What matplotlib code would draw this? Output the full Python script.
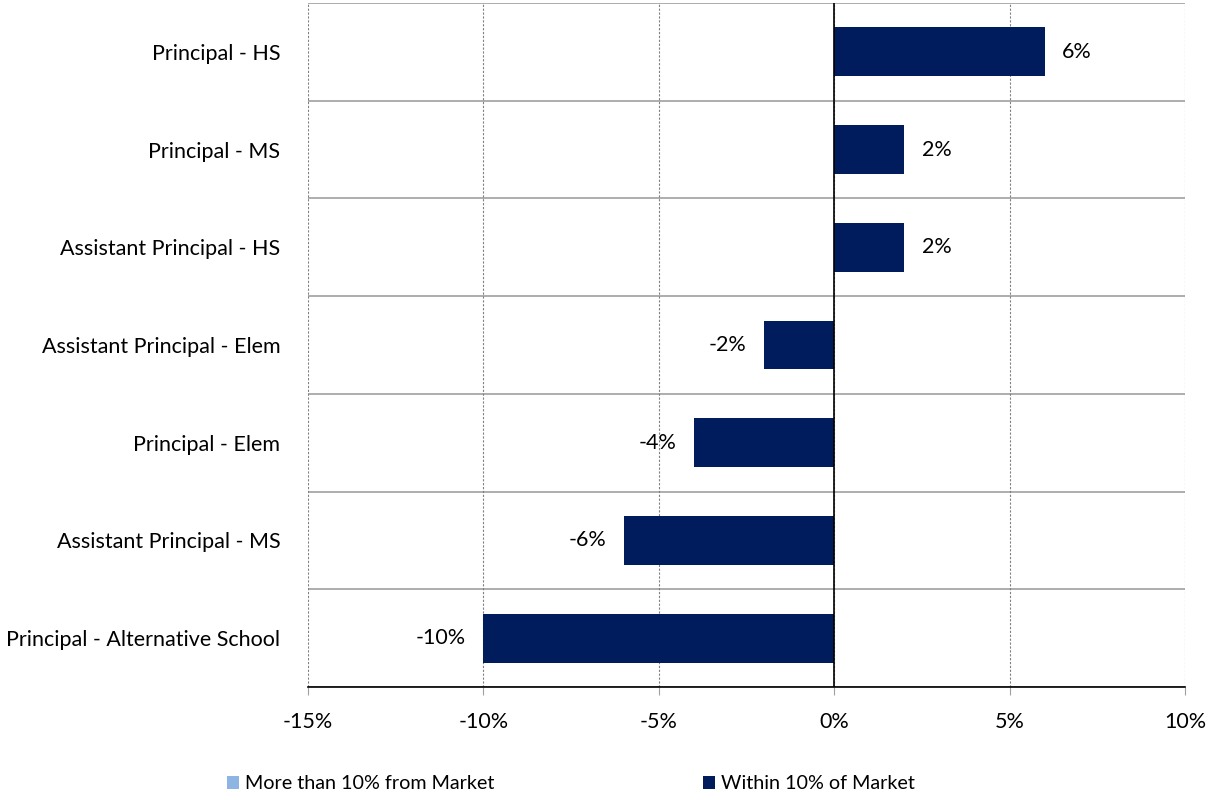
import matplotlib.pyplot as plt
import numpy as np

plt.rcParams['font.family'] = ['Lato', 'DejaVu Sans']

categories = ['Principal - HS', 'Principal - MS', 'Assistant Principal - HS',
              'Assistant Principal - Elem', 'Principal - Elem',
              'Assistant Principal - MS', 'Principal - Alternative School']
within = [6, 2, 2, -2, -4, -6, -10]
more_than = [0, 0, 0, 0, 0, 0, 0]
xticks = [-15, -10, -5, 0, 5, 10]

FS = 15.5

fig = plt.figure(figsize=(12.15, 7.98), dpi=100)
ax = fig.add_axes([0.2535, 0.1391, 0.7218, 0.8571])

y = np.arange(len(categories))[::-1]
ax.barh(y, more_than, height=0.5, color='#8DB4E2', label='More than 10% from Market')
ax.barh(y, within, height=0.5, color='#001C5C', label='Within 10% of Market')

for yi, v in zip(y, within):
    if v >= 0:
        ax.text(v + 0.5, yi, f'{v}%', va='center', ha='left', fontsize=FS)
    else:
        ax.text(v - 0.5, yi, f'{v}%', va='center', ha='right', fontsize=FS)

ax.set_xlim(-15, 10)
ax.set_ylim(-0.5, len(categories) - 0.5)
ax.set_xticks(xticks)
ax.set_xticklabels([f'{t}%' for t in xticks], fontsize=FS)
ax.set_yticks(y)
ax.set_yticklabels(categories, fontsize=FS)
ax.tick_params(axis='y', length=0, pad=20)
ax.tick_params(axis='x', length=6, color='#A0A0A0', pad=12)

for b in np.arange(len(categories) + 1) - 0.5:
    ax.axhline(b, color='#A0A0A0', lw=1.2, zorder=0)
for t in xticks:
    ax.axvline(t, color='#808080', lw=0.8, ls=(0, (2, 1.5)), zorder=0)
ax.axvline(0, color='black', lw=1.2, zorder=3)

for s in ['top', 'right', 'left']:
    ax.spines[s].set_visible(False)
ax.spines['bottom'].set_color('black')
ax.spines['bottom'].set_linewidth(1.2)

ax.legend(loc='upper center', bbox_to_anchor=(0.30, -0.103), ncol=2, frameon=False,
          handlelength=0.6, handleheight=0.6, handletextpad=0.3,
          columnspacing=10.6, prop={'size': 14.2})

fig.savefig('out.png', dpi=100)
